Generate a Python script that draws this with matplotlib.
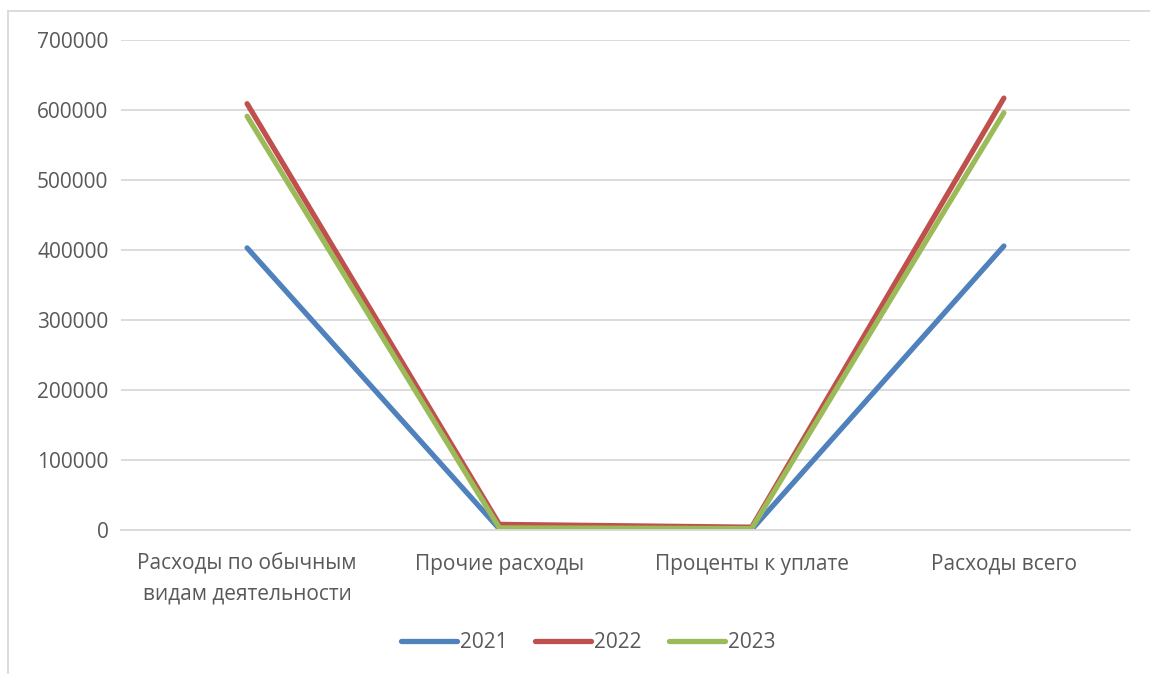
import matplotlib
matplotlib.use("Agg")
import matplotlib.pyplot as plt
from matplotlib.lines import Line2D

categories = ["Расходы по обычным\nвидам деятельности", "Прочие расходы",
              "Проценты к уплате", "Расходы всего"]
years = ["2021", "2022", "2023"]
values_2021 = [403000, 1500, 500, 405700]
values_2022 = [609000, 8000, 4000, 617000]
values_2023 = [591000, 3000, 2000, 596000]
y_ticks = [0, 100000, 200000, 300000, 400000, 500000, 600000, 700000]

colors = ["#4f81bd", "#c0504d", "#9bbb59"]
text_color = "#595959"
grid_color = "#d9d9d9"

plt.rcParams["font.family"] = ["Open Sans", "DejaVu Sans"]

fig = plt.figure(figsize=(11.5, 6.74), dpi=100)
ax = fig.add_axes([121 / 1150, 1 - 530 / 674, (1130 - 121) / 1150, 490 / 674])

# chart area frame: only the left and top edges fall inside the image
x0, y0 = 7.5 / 1150, 1 - 10.5 / 674
fig.lines.append(Line2D([x0, x0], [0, y0], transform=fig.transFigure,
                        color=grid_color, linewidth=1.3))
fig.lines.append(Line2D([x0, 1], [y0, y0], transform=fig.transFigure,
                        color=grid_color, linewidth=1.3))

x = list(range(len(categories)))
for name, vals, c in zip(years, [values_2021, values_2022, values_2023], colors):
    ax.plot(x, vals, color=c, linewidth=3.8, solid_capstyle="round",
            solid_joinstyle="miter", label=name)

ax.set_xlim(-0.5, 3.5)
ax.set_ylim(0, 700000)
ax.set_yticks(y_ticks)
ax.set_yticklabels([str(v) for v in y_ticks])
ax.set_xticks(x)
ax.set_xticklabels(categories, linespacing=1.55)
ax.grid(axis="y", color=grid_color, linewidth=1.3)
ax.set_axisbelow(True)
for s in ["top", "right", "left"]:
    ax.spines[s].set_visible(False)
ax.spines["bottom"].set_color(grid_color)
ax.spines["bottom"].set_linewidth(1.3)
ax.tick_params(axis="both", length=0, colors=text_color, labelsize=15)
ax.tick_params(axis="y", pad=9)
ax.tick_params(axis="x", pad=17)

leg = fig.legend(loc="center", bbox_to_anchor=(588 / 1150, 1 - 643 / 674),
                 ncol=3, frameon=False, fontsize=15, handlelength=2.7,
                 handletextpad=0.15, columnspacing=1.3)
for t in leg.get_texts():
    t.set_color(text_color)

fig.savefig("out.png", dpi=100, facecolor="white")
